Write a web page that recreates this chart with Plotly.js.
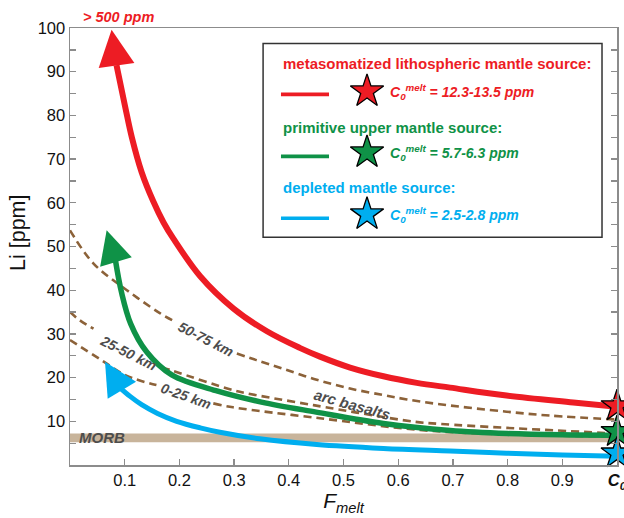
<!DOCTYPE html>
<html><head><meta charset="utf-8">
<script src="https://cdn.plot.ly/plotly-3.0.1.min.js"></script>
<style>html,body{margin:0;padding:0;background:#fff}#chart{width:624px;height:518px}</style>
</head><body><div id="chart"></div>
<script>
// ---------------- data ----------------
const xTickVals = [0.1,0.2,0.3,0.4,0.5,0.6,0.7,0.8,0.9,1.0];
const xTickText = ['0.1','0.2','0.3','0.4','0.5','0.6','0.7','0.8','0.9','<b><i>C<sub>0</sub></i></b>'];
const yTickVals = [5,10,15,20,25,30,35,40,45,50,55,60,65,70,75,80,85,90,95,100];
const yTickText = ['','10','','20','','30','','40','','50','','60','','70','','80','','90','','100'];

// metasomatized lithospheric mantle source (red)
const redF  = [0.085,0.1005,0.113,0.131,0.152,0.171,0.189,0.238,0.299,0.36,0.42,0.457,0.512,0.573,0.634,0.695,0.798,0.92,1.0];
const redLi = [91.5, 82.2, 75.0, 67.0, 60.4, 55.5, 51.8, 43.2, 35.8, 30.6,26.8, 24.8, 22.3, 20.3, 18.8, 17.7, 15.9, 14.3,13.3];
const redTip = [0.076, 99.6];
// primitive upper mantle source (green)
const greenF  = [0.083,0.094,0.111,0.14,0.186,0.27,0.35,0.45,0.573,0.695,0.8,0.9,1.0];
const greenLi = [46.9, 39.6, 32.3, 25.9,20.6, 16.9,14.4,12.1,9.5, 7.9, 7.2,6.9,6.8];
const greenTip = [0.067, 53.7];
// depleted mantle source (blue)
const blueF  = [0.093,0.11,0.131,0.16,0.195,0.238,0.274,0.347,0.451,0.573,0.695,0.798,0.9,1.0];
const blueLi = [17.5, 15.7,13.8, 11.8,10.0, 8.5,  7.5,  6.0,  4.7,  3.8,  3.2,  2.7,  2.3,2.0];
const blueTip = [0.064, 23.6];

// arc basalt trends (dashed); null = gap where the line is broken by its label
const arc5075F  = [0,0.043,0.104,0.165,0.192,null,0.305,0.341,0.39,0.451,0.512,0.573,0.616,0.676,0.798,0.878,1.0];
const arc5075Li = [53.7,46.1,40.0,34.7,32.8,null,25.5,24.0,22.0,19.5,17.5,16.0,15.0,13.9,12.2,11.3,10.4];
const arc2550F  = [0,0.018,0.043,null,0.168,0.189,0.299,0.323,0.445,0.63,0.676,0.798,1.0];
const arc2550Li = [35.0,33.1,31.2,null,22.4,21.5,17.1,16.4,13.7,9.9,9.4,8.5,7.2];
const arc025F   = [0,0.055,0.104,0.158,null,0.262,0.298,0.457,0.64,0.8,1.0];
const arc025Li  = [28.6,24.2,20.4,18.3,null,14.1,13.2,10.7,8.0,7.0,6.5];

// C0 (melt) stars at F = 1
const c0F  = [1.0, 1.0, 1.0];
const c0Li = [13.5, 7.6, 2.7];
// MORB band
const morbRange = [5.2, 7.2];

// ---------------- styling ----------------
const FONT = 'Liberation Sans, Arial, Helvetica, sans-serif';
const RED = '#ed1c24', GREEN = '#0f9247', BLUE = '#00aeef', BROWN = '#8c6239', GREY = '#4d4d4d', AX = '#8c8c8c';

const dashLine = {color: BROWN, width: 2.6, dash: '8px,5px', shape: 'spline', smoothing: 1};
const traces = [
  {x: arc5075F, y: arc5075Li, mode: 'lines', line: dashLine, connectgaps: false, hoverinfo: 'skip'},
  {x: arc2550F, y: arc2550Li, mode: 'lines', line: dashLine, connectgaps: false, hoverinfo: 'skip'},
  {x: arc025F,  y: arc025Li,  mode: 'lines', line: dashLine, connectgaps: false, hoverinfo: 'skip'},
  {x: blueF,  y: blueLi,  mode: 'lines', line: {color: BLUE,  width: 5,   shape: 'spline', smoothing: 1}},
  {x: greenF, y: greenLi, mode: 'lines', line: {color: GREEN, width: 5.5, shape: 'spline', smoothing: 1}},
  {x: redF,   y: redLi,   mode: 'lines', line: {color: RED,   width: 6,   shape: 'spline', smoothing: 1}},
  {x: c0F, y: c0Li, mode: 'markers', cliponaxis: false,
   marker: {symbol: 'star', size: 24, color: [RED, GREEN, BLUE], line: {color: '#000', width: 1.3}}},
  // legend stars (overlay axes in 0..1 plot fractions)
  {x: [0.543,0.543,0.543], y: [0.855,0.7154,0.5737], xaxis: 'x2', yaxis: 'y2', mode: 'markers', cliponaxis: false,
   marker: {symbol: 'star', size: 25, color: [RED, GREEN, BLUE], line: {color: '#000', width: 1.3}}}
];

function arrowHead(tip, F, Li, color, size) {
  return {x: tip[0], y: tip[1], ax: F[0], ay: Li[0], xref: 'x', yref: 'y', axref: 'x', ayref: 'y',
          text: '', showarrow: true, arrowhead: 2, arrowsize: size, arrowwidth: 3, arrowcolor: color, standoff: 0};
}
function lbl(text, x, y, angle, size) {
  return {text: '<b><i>' + text + '</i></b>', x: x, y: y, xref: 'x', yref: 'y', showarrow: false,
          xanchor: 'center', yanchor: 'middle',
          textangle: angle, font: {family: FONT, size: size, color: GREY}};
}
function ptxt(text, x, y, color, size) {
  return {text: text, x: x, y: y, xref: 'paper', yref: 'paper', xanchor: 'left', yanchor: 'middle',
          showarrow: false, font: {family: FONT, size: size, color: color}};
}

const annotations = [
  arrowHead(redTip, redF, redLi, RED, 2.4),
  arrowHead(greenTip, greenF, greenLi, GREEN, 2.2),
  arrowHead(blueTip, blueF, blueLi, BLUE, 2.2),
  {text: '<b><i>&gt; 500 ppm</i></b>', x: 0.0878, y: 1.026, xref: 'paper', yref: 'paper', showarrow: false,
   xanchor: 'center', yanchor: 'middle', font: {family: FONT, size: 14.5, color: RED}},
  {text: 'Li [ppm]', x: -0.095, y: 0.531, xref: 'paper', yref: 'paper', showarrow: false, textangle: -90,
   xanchor: 'center', yanchor: 'middle', font: {family: FONT, size: 21.5, color: '#111'}},
  lbl('50-75 km', 0.248, 28.8, 27, 14),
  lbl('25-50 km', 0.107, 25.7, 26.5, 14),
  lbl('0-25 km', 0.212, 15.8, 19.5, 14),
  lbl('arc basalts', 0.516, 13.9, 15.5, 15),
  lbl('MORB', 0.058, 6.3, 0, 15),
  ptxt('<b>metasomatized lithospheric mantle source:</b>', 0.3857, 0.9189, RED, 15),
  ptxt('<b><i>C<sub>0</sub><sup>melt</sup> = 12.3-13.5 ppm</i></b>', 0.5814, 0.8526, RED, 14),
  ptxt('<b>primitive upper mantle source:</b>', 0.3857, 0.7726, GREEN, 15),
  ptxt('<b><i>C<sub>0</sub><sup>melt</sup> = 5.7-6.3 ppm</i></b>', 0.5814, 0.7131, GREEN, 14),
  ptxt('<b>depleted mantle source:</b>', 0.3857, 0.6354, BLUE, 15),
  ptxt('<b><i>C<sub>0</sub><sup>melt</sup> = 2.5-2.8 ppm</i></b>', 0.5814, 0.5714, BLUE, 14)
];

function legLine(y, color) {
  return {type: 'line', xref: 'paper', yref: 'paper', x0: 0.3857, x1: 0.4735, y0: y, y1: y,
          line: {color: color, width: 3.6}, layer: 'above'};
}
const shapes = [
  {type: 'rect', xref: 'paper', yref: 'y', x0: 0, x1: 1, y0: morbRange[0], y1: morbRange[1],
   fillcolor: '#c8b49b', line: {width: 0}, layer: 'below'},
  {type: 'rect', xref: 'paper', yref: 'paper', x0: 0.353, x1: 0.9726, y0: 0.5211, y1: 0.9646,
   fillcolor: 'rgba(0,0,0,0)', line: {color: '#333', width: 1.5}, layer: 'above'},
  legLine(0.848, RED), legLine(0.7063, GREEN), legLine(0.5646, BLUE)
];

const layout = {
  width: 624, height: 518,
  margin: {l: 70, r: 7, t: 28, b: 53},
  paper_bgcolor: '#fff', plot_bgcolor: '#fff',
  showlegend: false,
  font: {family: FONT, size: 16.5, color: '#111'},
  xaxis: {range: [0, 1], tickvals: xTickVals, ticktext: xTickText, ticks: 'inside', ticklen: 6,
          tickwidth: 1.3, tickcolor: AX, showline: true, linecolor: AX, linewidth: 1.5, mirror: true,
          ticklabeloverflow: 'allow',
          showgrid: false, zeroline: false, tickfont: {family: FONT, size: 16.5, color: '#111'},
          title: {text: '<i>F<sub>melt</sub></i>', font: {family: FONT, size: 21, color: '#111'}, standoff: 1}},
  yaxis: {range: [0, 100], tickvals: yTickVals, ticktext: yTickText, ticks: 'inside', ticklen: 6,
          tickwidth: 1.3, tickcolor: AX, showline: true, linecolor: AX, linewidth: 1.5, mirror: 'ticks',
          showgrid: false, zeroline: false, tickfont: {family: FONT, size: 16.5, color: '#111'}},
  xaxis2: {overlaying: 'x', range: [0, 1], visible: false, fixedrange: true},
  yaxis2: {overlaying: 'y', range: [0, 1], visible: false, fixedrange: true},
  annotations: annotations,
  shapes: shapes
};

Plotly.newPlot('chart', traces, layout, {staticPlot: true, displayModeBar: false});
</script>
</body></html>
